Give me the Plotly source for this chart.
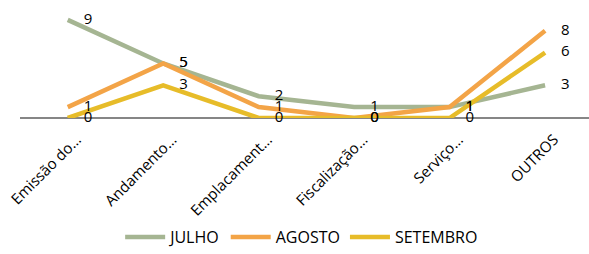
import plotly.graph_objects as go

categories = ["Emissão do…", "Andamento…", "Emplacament…", "Fiscalização…", "Serviço…", "OUTROS"]
julho = [9, 5, 2, 1, 1, 3]
agosto = [1, 5, 1, 0, 1, 8]
setembro = [0, 3, 0, 0, 0, 6]

series = [
    ("JULHO", julho, "#a5b592"),
    ("AGOSTO", agosto, "#f3a447"),
    ("SETEMBRO", setembro, "#e7bc29"),
]

FONT = "Open Sans"
fig = go.Figure()
xs = list(range(len(categories)))
for name, vals, color in series:
    fig.add_trace(go.Scatter(
        x=xs, y=vals, name=name, mode="lines",
        line=dict(color=color, width=4.5),
        cliponaxis=False, hoverinfo="skip",
    ))
for name, vals, color in series:
    fig.add_trace(go.Scatter(
        x=xs, y=vals, name=name, mode="markers+text", showlegend=False,
        marker=dict(size=24, opacity=0, color=color),
        text=[str(v) for v in vals], textposition="middle right",
        textfont=dict(family=FONT, size=15, color="#000000"),
        cliponaxis=False, hoverinfo="skip",
    ))

fig.update_layout(
    width=589, height=254,
    margin=dict(l=20, r=0, t=9, b=136, autoexpand=False),
    plot_bgcolor="white", paper_bgcolor="white",
    font=dict(family=FONT, size=15, color="#000000"),
    showlegend=True,
    legend=dict(orientation="h", x=0.495, xanchor="center",
                yref="container", y=0.0, yanchor="bottom",
                font=dict(family=FONT, size=16, color="#000000"), itemwidth=40,
                traceorder="normal"),
    xaxis=dict(range=[-0.5, 5.46], tickmode="array", tickvals=xs, ticktext=categories,
               tickangle=-45, showgrid=False, zeroline=False, showline=False, automargin=False,
               ticklabeloverflow="allow", ticklabelshift=9, ticklabelstandoff=9,
               ticks="", tickfont=dict(family=FONT, size=15, color="#000000")),
    yaxis=dict(range=[0, 10], showgrid=False, zeroline=True, zerolinecolor="#868686",
               zerolinewidth=1.5, showticklabels=False, showline=False, ticks="",
               automargin=False),
)
fig.write_html("out.html", post_script="document.body.style.margin='0';",
               config={"displayModeBar": False})
